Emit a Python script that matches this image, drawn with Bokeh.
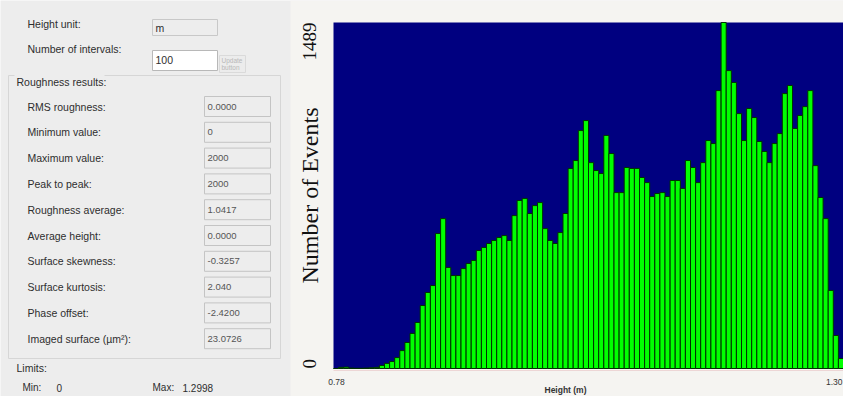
import numpy as np
from math import pi
from bokeh.plotting import figure
from bokeh.models import Range1d
from bokeh.embed import file_html
from bokeh.resources import INLINE
from bokeh.core.properties import value

# ---------------- data ----------------
counts = [0, 5, 6, 2, 1, 1, 2, 3, 5, 13,
          22, 30, 47, 77, 112, 151, 198, 271, 327, 357,
          581, 645, 435, 400, 400, 430, 452, 465, 508, 521,
          538, 551, 564, 572, 551, 658, 723, 732, 667, 701,
          714, 602, 551, 538, 585, 667, 861, 895, 1024, 1067,
          886, 852, 839, 1003, 925, 757, 757, 865, 861, 861,
          822, 800, 740, 753, 757, 740, 809, 809, 775, 895,
          865, 800, 886, 981, 968, 1196, 1489, 1282, 1231, 1097,
          981, 1119, 1080, 977, 934, 886, 968, 1011, 1183, 1218,
          1033, 1089, 1127, 1196, 873, 736, 645, 336, 142, 43]
x_start, x_end = 0.78, 1.30
x_tick_labels = ["0.78", "1.30"]
y_axis_title = "Number of Events"
x_axis_title = "Height (m)"

height_unit = "m"
n_intervals = "100"
result_labels = ["RMS roughness:", "Minimum value:", "Maximum value:", "Peak to peak:",
                 "Roughness average:", "Average height:", "Surface skewness:",
                 "Surface kurtosis:", "Phase offset:", "Imaged surface (\u00b5m\u00b2):"]
result_values = ["0.0000", "0", "2000", "2000", "1.0417", "0.0000", "-0.3257",
                 "2.040", "-2.4200", "23.0726"]
limit_min = "0"
limit_max = "1.2998"

# ---------------- layout constants (canvas pixels) ----------------
W, H = 843, 396
PX_L, PX_R, PX_T, PX_B = 333, 843, 22, 368   # histogram plot area
FONT = value("Liberation Sans")
SERIF = value("Liberation Serif")
TXT = "#2e2e2e"

ymax = max(counts)
kx = (x_end - x_start) / (PX_R - PX_L)
ky = ymax / (PX_B - PX_T)

p = figure(width=W, height=H,
           x_range=Range1d(x_start - PX_L * kx, x_start + (W - PX_L) * kx),
           y_range=Range1d(-(H - PX_B) * ky, ymax + PX_T * ky),
           x_axis_location=None, y_axis_location=None,
           output_backend="svg", toolbar_location=None,
           min_border=0, min_border_left=0, min_border_right=0,
           min_border_top=0, min_border_bottom=0)
p.extra_x_ranges = {"px": Range1d(0, W)}
p.extra_y_ranges = {"px": Range1d(H, 0)}
p.grid.visible = False
p.outline_line_color = None
p.background_fill_color = "#EDEDED"
p.border_fill_color = "#EDEDED"

PX = dict(x_range_name="px", y_range_name="px")

# right-hand light area
p.quad(left=[290], right=[W], top=[0], bottom=[H], fill_color="#F5F4F1",
       line_color=None, **PX)

# ---------------- histogram ----------------
edges = np.linspace(x_start, x_end, len(counts) + 1)
p.quad(left=[x_start], right=[x_end], bottom=[0], top=[ymax],
       fill_color="#000080", line_color=None)
p.quad(left=edges[:-1], right=edges[1:], top=counts, bottom=0,
       fill_color="#00FF00", line_color="#003000", line_width=1)
p.segment(x0=[x_start], x1=[x_end], y0=[PX_B + 2], y1=[PX_B + 2],
          line_color="#EDD6D6", line_width=1, x_range_name="default", y_range_name="px")

# y "axis": title and end values
p.text(x=[309], y=[ymax / 2], text=[y_axis_title], angle=pi / 2,
       text_align="center", text_baseline="middle", text_font=SERIF,
       text_font_size="24px", text_color="#111111", x_range_name="px")
p.text(x=[309, 309], y=[ymax, 0], text=[str(ymax), "0"], angle=pi / 2,
       text_align=["right", "left"], text_baseline="middle", text_font=SERIF,
       text_font_size="19px", text_color="#111111", x_range_name="px")

# x "axis": end values and title
p.text(x=[x_start], y=[381], text=[x_tick_labels[0]],
       text_align="center", text_baseline="middle", text_font=FONT,
       text_font_size="8.5px", text_color="#333333", x_offset=3,
       y_range_name="px")
p.text(x=[x_end], y=[381], text=[x_tick_labels[1]],
       text_align="right", text_baseline="middle", text_font=FONT,
       text_font_size="8.5px", text_color="#333333", x_offset=-1,
       y_range_name="px")
p.text(x=[565], y=[389], text=[x_axis_title], text_align="center",
       text_baseline="middle", text_font=FONT, text_font_size="8.5px",
       text_font_style="bold", text_color="#333333", **PX)

# ---------------- left panel ----------------
def txt(x, y, s, size="10.5px", color=TXT):
    p.text(x=[x], y=[y], text=[s], text_font=FONT, text_font_size=size,
           text_color=color, text_align="left", text_baseline="middle", **PX)

def box(l, r, t, b, fill="#EFEFEF", line="#C6C6C6"):
    p.quad(left=[l], right=[r], top=[t], bottom=[b], fill_color=fill,
           line_color=line, line_width=1, **PX)

# height unit
txt(27, 23, "Height unit:")
box(152, 217, 19, 35, fill="#EDEDED", line="#C8C8C8")
txt(155, 27, height_unit)
# number of intervals
txt(27, 48, "Number of intervals:")
box(152, 217, 50, 70, fill="#FFFFFF", line="#B8B8B8")
txt(155, 59, n_intervals)
box(219, 245, 55, 72, fill="#ECECEC", line="#DADADA")
txt(221, 60, "Update", size="6.5px", color="#B8B8B8")
txt(221, 67, "button", size="6.5px", color="#B8B8B8")

# roughness results group
box(8, 280, 75, 358, fill=None, line="#D6D6D6")
box(14, 104, 74, 88, fill="#EDEDED", line=None)
txt(16, 81, "Roughness results:")
for i, (lab, val) in enumerate(zip(result_labels, result_values)):
    yc = 106 + 25.8 * i
    txt(27, yc, lab)
    box(204, 270, yc - 10, yc + 10, fill="#EDEDED", line="#C4C4C4")
    txt(207, yc, val, size="9.5px", color="#555555")

# limits
txt(16, 367, "Limits:")
txt(22, 387, "Min:", size="10px")
txt(56, 387, limit_min, size="10px")
txt(152, 387, "Max:", size="10px")
txt(182, 387, limit_max, size="10px")

open("out.html", "w").write(file_html(p, INLINE))
